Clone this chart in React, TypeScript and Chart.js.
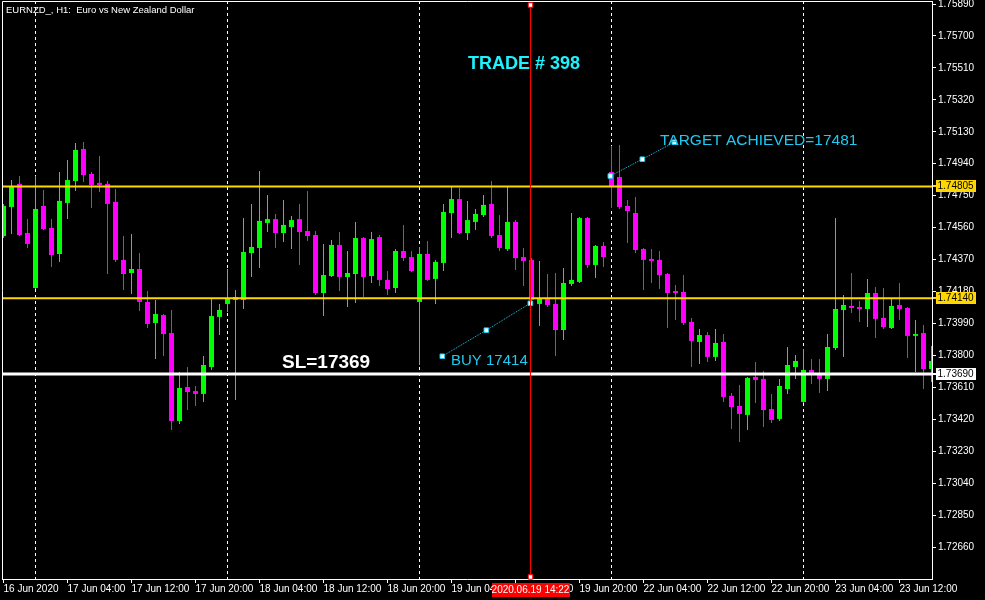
import React, { useEffect, useRef } from 'react';
import { Chart, registerables } from 'chart.js';

Chart.register(...registerables);

// ---- EURNZD H1 candles (16 Jun 20:00 .. 23 Jun 16:00) ----
const openPrices = [
  1.74510, 1.74683, 1.74820, 1.74528, 1.74201, 1.74689, 1.74558, 1.74403, 1.74707, 1.74837,
  1.75028, 1.74879, 1.74826, 1.74820, 1.74713, 1.74368, 1.74290, 1.74314, 1.74118, 1.73993,
  1.74040, 1.73933, 1.73410, 1.73612, 1.73588, 1.73571, 1.73731, 1.74029, 1.74106, 1.74130,
  1.74130, 1.74409, 1.74439, 1.74588, 1.74611, 1.74528, 1.74564, 1.74611, 1.74540, 1.74516,
  1.74171, 1.74272, 1.74457, 1.74266, 1.74284, 1.74498, 1.74272, 1.74504, 1.74249, 1.74201,
  1.74421, 1.74385, 1.74118, 1.74403, 1.74255, 1.74350, 1.74647, 1.74730, 1.74528, 1.74594,
  1.74635, 1.74701, 1.74516, 1.74433, 1.74594, 1.74385, 1.74368, 1.74106, 1.74136, 1.74106,
  1.73951, 1.74225, 1.74237, 1.74617, 1.74338, 1.74451, 1.74891, 1.74861, 1.74689, 1.74647,
  1.74433, 1.74374, 1.74368, 1.74284, 1.74183, 1.74177, 1.73999, 1.73880, 1.73921, 1.73791,
  1.73880, 1.73559, 1.73499, 1.73446, 1.73672, 1.73660, 1.73481, 1.73422, 1.73600, 1.73731,
  1.73523, 1.73713, 1.73695, 1.73660, 1.73844, 1.74070, 1.74094, 1.74088, 1.74076, 1.74171,
  1.74023, 1.73963, 1.74100, 1.74082, 1.73916, 1.73933, 1.73719,
];
const highPrices = [
  1.74701, 1.74843, 1.74867, 1.74611, 1.74867, 1.74784, 1.74611, 1.74891, 1.74962, 1.75063,
  1.75069, 1.74891, 1.74986, 1.74837, 1.74790, 1.74510, 1.74522, 1.74409, 1.74183, 1.74130,
  1.74046, 1.74070, 1.73701, 1.73731, 1.73618, 1.73797, 1.74136, 1.74106, 1.74314, 1.74189,
  1.74617, 1.74701, 1.74897, 1.74754, 1.74641, 1.74724, 1.74629, 1.74701, 1.74778, 1.74540,
  1.74463, 1.74487, 1.74534, 1.74421, 1.74594, 1.74504, 1.74534, 1.74516, 1.74302, 1.74433,
  1.74576, 1.74421, 1.74445, 1.74481, 1.74368, 1.74701, 1.74802, 1.74796, 1.74719, 1.74671,
  1.74754, 1.74837, 1.74635, 1.74802, 1.74605, 1.74439, 1.74379, 1.74362, 1.74284, 1.74290,
  1.74320, 1.74647, 1.74623, 1.74623, 1.74457, 1.74475, 1.75046, 1.75052, 1.74724, 1.74742,
  1.74439, 1.74433, 1.74421, 1.74290, 1.74219, 1.74278, 1.74023, 1.73957, 1.73939, 1.73957,
  1.73927, 1.73576, 1.73624, 1.73672, 1.73761, 1.73707, 1.73571, 1.73660, 1.73850, 1.73803,
  1.73838, 1.73779, 1.73779, 1.73927, 1.74617, 1.74159, 1.74290, 1.74124, 1.74255, 1.74207,
  1.74201, 1.74142, 1.74231, 1.74088, 1.74011, 1.73981, 1.73856,
];
const lowPrices = [
  1.74498, 1.74522, 1.74510, 1.74439, 1.74195, 1.74546, 1.74326, 1.74356, 1.74611, 1.74778,
  1.74831, 1.74677, 1.74772, 1.74284, 1.74356, 1.74189, 1.74165, 1.74064, 1.73963, 1.73779,
  1.73797, 1.73356, 1.73392, 1.73475, 1.73499, 1.73523, 1.73713, 1.73921, 1.74058, 1.73535,
  1.74076, 1.74266, 1.74320, 1.74534, 1.74439, 1.74475, 1.74433, 1.74338, 1.74481, 1.74159,
  1.74034, 1.74266, 1.74183, 1.74088, 1.74112, 1.74147, 1.74231, 1.74213, 1.74159, 1.74171,
  1.74362, 1.74296, 1.73743, 1.74243, 1.74106, 1.74302, 1.74498, 1.74522, 1.74487, 1.74546,
  1.74623, 1.74498, 1.74421, 1.74421, 1.74308, 1.74213, 1.74112, 1.73975, 1.74088, 1.73797,
  1.73892, 1.74213, 1.74231, 1.74320, 1.74261, 1.74326, 1.74677, 1.74671, 1.74469, 1.74409,
  1.74189, 1.74231, 1.74195, 1.73963, 1.74011, 1.73981, 1.73731, 1.73749, 1.73761, 1.73767,
  1.73523, 1.73362, 1.73285, 1.73356, 1.73517, 1.73374, 1.73398, 1.73410, 1.73571, 1.73660,
  1.73517, 1.73630, 1.73576, 1.73588, 1.73832, 1.73791, 1.74052, 1.73999, 1.73969, 1.73904,
  1.73957, 1.73957, 1.74011, 1.73785, 1.73701, 1.73600, 1.73642,
];
const closePrices = [
  1.74689, 1.74808, 1.74516, 1.74463, 1.74671, 1.74552, 1.74397, 1.74719, 1.74843, 1.75022,
  1.74873, 1.74814, 1.74814, 1.74701, 1.74368, 1.74284, 1.74314, 1.74118, 1.73987, 1.74046,
  1.73927, 1.73410, 1.73606, 1.73582, 1.73571, 1.73743, 1.74034, 1.74070, 1.74142, 1.74147,
  1.74415, 1.74445, 1.74600, 1.74611, 1.74528, 1.74576, 1.74605, 1.74534, 1.74510, 1.74171,
  1.74278, 1.74457, 1.74266, 1.74290, 1.74498, 1.74266, 1.74492, 1.74249, 1.74195, 1.74421,
  1.74379, 1.74302, 1.74403, 1.74249, 1.74356, 1.74653, 1.74730, 1.74528, 1.74605, 1.74641,
  1.74695, 1.74510, 1.74439, 1.74594, 1.74379, 1.74362, 1.74130, 1.74136, 1.74100, 1.73951,
  1.74231, 1.74249, 1.74617, 1.74338, 1.74451, 1.74385, 1.74802, 1.74683, 1.74659, 1.74427,
  1.74368, 1.74362, 1.74278, 1.74171, 1.74171, 1.73993, 1.73886, 1.73921, 1.73791, 1.73874,
  1.73553, 1.73493, 1.73452, 1.73666, 1.73654, 1.73475, 1.73416, 1.73618, 1.73743, 1.73767,
  1.73713, 1.73695, 1.73660, 1.73850, 1.74076, 1.74100, 1.74082, 1.74076, 1.74171, 1.74017,
  1.73969, 1.74094, 1.74076, 1.73916, 1.73927, 1.73719, 1.73767,
];

// time axis: bar index of each label and the labels
const timeTickBars = [0, 8, 16, 24, 32, 40, 48, 56, 64, 72, 80, 88, 96, 104, 112];
const timeTickLabels = [
  '16 Jun 2020', '17 Jun 04:00', '17 Jun 12:00', '17 Jun 20:00', '18 Jun 04:00',
  '18 Jun 12:00', '18 Jun 20:00', '19 Jun 04:00', '19 Jun 12:00', '19 Jun 20:00',
  '22 Jun 04:00', '22 Jun 12:00', '22 Jun 20:00', '23 Jun 04:00', '23 Jun 12:00',
];
// day separators (bar index of 00:00)
const daySeparatorBars = [4, 28, 52, 76, 100];

// price axis ticks
const priceTicks = [
  1.75890, 1.75700, 1.75510, 1.75320, 1.75130, 1.74940, 1.74750, 1.74560, 1.74370,
  1.74180, 1.73990, 1.73800, 1.73610, 1.73420, 1.73230, 1.73040, 1.72850, 1.72660,
];

// trade levels
const targetLevel = 1.74805;
const entryLevel = 1.74140;
const stopLevel = 1.73690;

// current time marker
const nowBar = 65.875;
const nowLabel = '2020.06.19 14:22';
const nowLineTop = 1.75884;
const nowLineBottom = 1.72482;

// trend line objects (bar, price)
const buyLineBars = [54.85, 60.35, 65.85];
const buyLinePrices = [1.73795, 1.73950, 1.74110];
const targetLineBars = [75.85, 79.85, 83.85];
const targetLinePrices = [1.74867, 1.74967, 1.75068];

// texts (anchor bar, price at baseline)
const noteTexts = ['TRADE # 398', 'SL=17369', 'BUY 17414', 'TARGET ACHIEVED=17481'];
const noteBars = [58.06, 34.81, 55.94, 82.06];
const notePrices = [1.75504, 1.73725, 1.73743, 1.75052];

const titleText = 'EURNZD_, H1:  Euro vs New Zealand Dollar';

// axis range
const X_MIN = -0.1875;
const X_MAX = 116.0625;
const Y_MIN = 1.72470;
const Y_MAX = 1.75908;

const BULL = '#00ff00';
const BEAR = '#ff00ff';
const GOLD = '#ffd700';
const SKY = '#1ecaf2';
const AQUA = '#1ff2ff';
const FONT = '"Liberation Sans", Arial, sans-serif';

const noteStyles = [
  { color: AQUA, font: `bold 18px ${FONT}` },
  { color: '#ffffff', font: `bold 19px ${FONT}` },
  { color: SKY, font: `15px ${FONT}` },
  { color: SKY, font: `15.5px ${FONT}` },
];

const decorPlugin = {
  id: 'mtDecor',
  beforeDraw(chart: any) {
    const { ctx, width, height } = chart;
    ctx.save();
    ctx.fillStyle = '#000';
    ctx.fillRect(0, 0, width, height);
    ctx.restore();
  },
  beforeDatasetsDraw(chart: any) {
    const { ctx, chartArea: a, scales } = chart;
    const x = scales.x;
    ctx.save();
    ctx.strokeStyle = '#ffffff';
    ctx.lineWidth = 1;
    ctx.setLineDash([3, 3]);
    daySeparatorBars.forEach((b) => {
      const px = x.getPixelForValue(b);
      ctx.beginPath();
      ctx.moveTo(px, a.top);
      ctx.lineTo(px, a.bottom);
      ctx.stroke();
    });
    ctx.restore();
  },
  afterDatasetsDraw(chart: any) {
    const { ctx, scales } = chart;
    const x = scales.x;
    const y = scales.y;
    ctx.save();
    ctx.textBaseline = 'alphabetic';
    ctx.textAlign = 'left';
    noteTexts.forEach((t, i) => {
      ctx.font = noteStyles[i].font;
      ctx.fillStyle = noteStyles[i].color;
      ctx.fillText(t, x.getPixelForValue(noteBars[i]), y.getPixelForValue(notePrices[i]));
    });
    ctx.restore();
  },
  afterDraw(chart: any) {
    const { ctx, chartArea: a, scales } = chart;
    const x = scales.x;
    const y = scales.y;
    ctx.save();
    // frame (left & top)
    ctx.strokeStyle = '#ffffff';
    ctx.lineWidth = 1;
    ctx.beginPath();
    ctx.moveTo(a.left + 0.5, a.bottom);
    ctx.lineTo(a.left + 0.5, a.top + 0.5);
    ctx.lineTo(a.right, a.top + 0.5);
    ctx.stroke();

    // title
    ctx.font = `9.5px ${FONT}`;
    ctx.fillStyle = '#ffffff';
    ctx.textBaseline = 'alphabetic';
    ctx.textAlign = 'left';
    ctx.fillText(titleText, 6, 13);

    // price boxes on the axis
    const boxes = [
      { v: targetLevel, bg: GOLD },
      { v: entryLevel, bg: GOLD },
      { v: stopLevel, bg: '#ffffff' },
    ];
    ctx.font = `10px ${FONT}`;
    ctx.textBaseline = 'middle';
    boxes.forEach((b) => {
      const py = Math.round(y.getPixelForValue(b.v));
      ctx.fillStyle = b.bg;
      ctx.fillRect(a.right + 1, py - 1, 4, 2);
      ctx.fillRect(a.right + 4, py - 6, 40, 12);
      ctx.fillStyle = '#000000';
      ctx.fillText(b.v.toFixed(5), a.right + 5.5, py + 0.5);
    });

    // current time label
    const nx = x.getPixelForValue(nowBar);
    ctx.fillStyle = '#ff0000';
    ctx.fillRect(Math.round(nx) - 39, a.bottom + 4, 78, 14);
    ctx.fillStyle = '#ffffff';
    ctx.textAlign = 'center';
    ctx.font = `10px ${FONT}`;
    ctx.fillText(nowLabel, nx, a.bottom + 11.5);
    ctx.restore();
  },
};

export default function App() {
  const ref = useRef<HTMLCanvasElement>(null);

  useEffect(() => {
    const canvas = ref.current;
    if (!canvas) return;
    const bars = openPrices.map((_, i) => i);
    const colors = bars.map((i) => (closePrices[i] >= openPrices[i] ? BULL : BEAR));

    const hLine = (v: number, color: string, w: number) => ({
      type: 'line' as const,
      data: [
        { x: X_MIN - 1, y: v },
        { x: X_MAX + 1, y: v },
      ],
      borderColor: color,
      borderWidth: w,
      pointRadius: 0,
      order: 2,
    });

    const trend = (bx: number[], py: number[]) => ({
      type: 'line' as const,
      data: bx.map((b, i) => ({ x: b, y: py[i] })),
      borderColor: SKY,
      borderWidth: 1,
      borderDash: [1, 1],
      pointStyle: 'rect',
      pointRadius: 3.2,
      pointBackgroundColor: '#ffffff',
      pointBorderColor: SKY,
      pointBorderWidth: 1,
      tension: 0,
      order: 1,
    });

    const chart = new Chart(canvas, {
      type: 'bar',
      data: {
        datasets: [
          {
            type: 'line',
            data: [
              { x: nowBar, y: nowLineTop },
              { x: nowBar, y: nowLineBottom },
            ],
            borderColor: '#ff0000',
            borderWidth: 1,
            pointStyle: 'rect',
            pointRadius: 3.2,
            pointBackgroundColor: '#ffffff',
            pointBorderColor: '#ff0000',
            pointBorderWidth: 1,
            clip: false,
            order: 0,
          } as any,
          trend(buyLineBars, buyLinePrices) as any,
          trend(targetLineBars, targetLinePrices) as any,
          hLine(targetLevel, GOLD, 2) as any,
          hLine(entryLevel, GOLD, 2) as any,
          hLine(stopLevel, '#ffffff', 3) as any,
          {
            type: 'bar',
            data: bars.map((i) => ({ x: i, y: [openPrices[i], closePrices[i]] })),
            backgroundColor: colors,
            barThickness: 5,
            grouped: false,
            inflateAmount: 0,
            borderWidth: 0,
            order: 5,
          } as any,
          {
            type: 'bar',
            data: bars.map((i) => ({ x: i, y: [lowPrices[i], highPrices[i]] })),
            backgroundColor: colors,
            barThickness: 1,
            grouped: false,
            inflateAmount: 0,
            borderWidth: 0,
            order: 6,
          } as any,
        ],
      },
      options: {
        animation: false,
        responsive: false,
        devicePixelRatio: 1,
        events: [],
        layout: { autoPadding: false, padding: { left: 2, top: 1, right: 0, bottom: 0 } },
        plugins: {
          legend: { display: false },
          tooltip: { enabled: false },
        },
        scales: {
          x: {
            type: 'linear',
            min: X_MIN,
            max: X_MAX,
            offset: false,
            afterBuildTicks: (s: any) => {
              s.ticks = timeTickBars.map((v) => ({ value: v }));
            },
            afterFit: (s: any) => {
              s.height = 21;
              s.paddingLeft = 0;
              s.paddingRight = 0;
            },
            ticks: {
              autoSkip: false,
              maxRotation: 0,
              minRotation: 0,
              align: 'start',
              padding: 0,
              color: '#ffffff',
              font: { family: '"Liberation Sans Narrow", "Liberation Sans", Arial', size: 10 },
              callback: (_v: any, i: number) => timeTickLabels[i],
            },
            grid: {
              drawOnChartArea: false,
              drawTicks: true,
              tickLength: 4,
              color: '#ffffff',
              offset: false,
            },
            border: { display: true, color: '#ffffff', width: 1 },
          },
          y: {
            type: 'linear',
            position: 'right',
            min: Y_MIN,
            max: Y_MAX,
            afterBuildTicks: (s: any) => {
              s.ticks = priceTicks.map((v) => ({ value: v }));
            },
            afterFit: (s: any) => {
              s.width = 53;
              s.paddingTop = 0;
              s.paddingBottom = 0;
            },
            ticks: {
              autoSkip: false,
              padding: 2,
              color: '#ffffff',
              font: { family: FONT, size: 10 },
              callback: (v: any) => Number(v).toFixed(5),
            },
            grid: {
              drawOnChartArea: false,
              drawTicks: true,
              tickLength: 4,
              color: '#ffffff',
            },
            border: { display: true, color: '#ffffff', width: 1 },
          },
        },
      } as any,
      plugins: [decorPlugin],
    });

    return () => chart.destroy();
  }, []);

  return (
    <div style={{ position: 'fixed', left: 0, top: 0, width: 985, height: 600, background: '#000' }}>
      <canvas ref={ref} width={985} height={600} style={{ display: 'block', width: 985, height: 600 }} />
    </div>
  );
}
